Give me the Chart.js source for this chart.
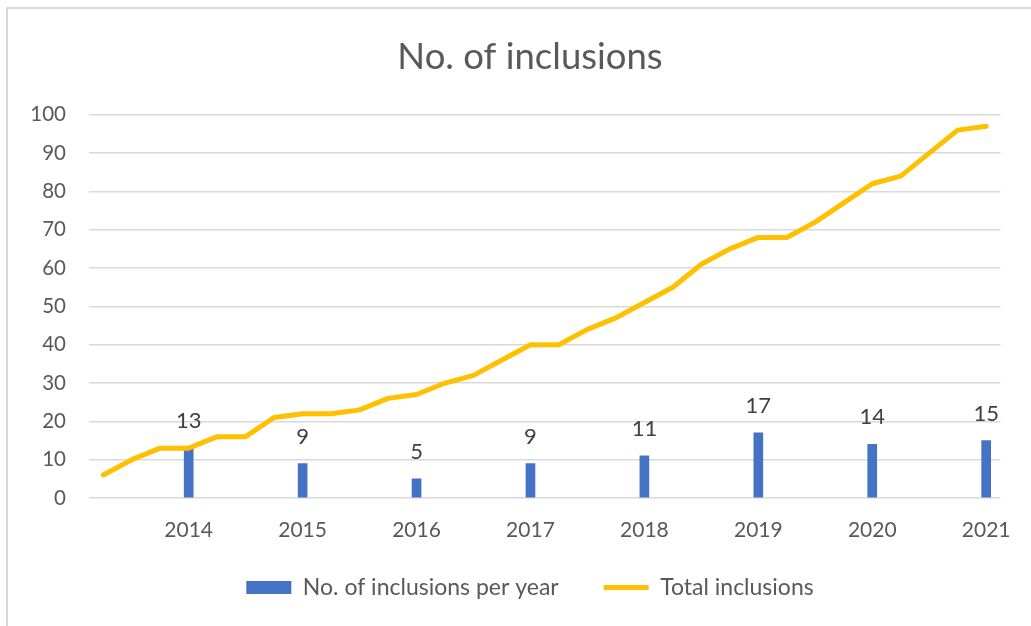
<!DOCTYPE html>
<html>
<head>
<meta charset="utf-8">
<script src="https://cdn.jsdelivr.net/npm/chart.js@4.4.1/dist/chart.umd.min.js"></script>
<style>
  html, body { margin: 0; padding: 0; background: #fff; overflow: hidden; }
  #wrap { position: relative; width: 1031px; height: 626px; }
  #frame { position: absolute; left: 6px; top: 7px; width: 1100px; height: 700px; border: 2px solid #d9d9d9; box-sizing: border-box; pointer-events: none; }
  canvas { position: absolute; left: 0; top: 0; }
</style>
</head>
<body>
<div id="wrap">
  <canvas id="c" width="1031" height="626"></canvas>
  <div id="frame"></div>
</div>
<script>
// Categories: quarterly points, labelled at each year end
const categories = ['', '', '', '2014', '', '', '', '2015', '', '', '', '2016', '', '', '', '2017',
                    '', '', '', '2018', '', '', '', '2019', '', '', '', '2020', '', '', '', '2021'];
// Inclusions per year (shown only at year categories)
const perYear = [null, null, null, 13, null, null, null, 9, null, null, null, 5, null, null, null, 9,
                 null, null, null, 11, null, null, null, 17, null, null, null, 14, null, null, null, 15];
// Cumulative total inclusions
const totalInclusions = [6, 10, 13, 13, 16, 16, 21, 22, 22, 23, 26, 27, 30, 32, 36, 40,
                         40, 44, 47, 51, 55, 61, 65, 68, 68, 72, 77, 82, 84, 90, 96, 97];
const yTicks = [0, 10, 20, 30, 40, 50, 60, 70, 80, 90, 100];

const FONT = 'Lato, "Open Sans", sans-serif';

const barLabels = {
  id: 'barLabels',
  afterDatasetsDraw(chart) {
    const meta = chart.getDatasetMeta(0);
    const ctx = chart.ctx;
    ctx.save();
    ctx.font = '22px ' + FONT;
    ctx.fillStyle = '#404040';
    ctx.textAlign = 'center';
    ctx.textBaseline = 'middle';
    meta.data.forEach((el, i) => {
      const v = perYear[i];
      if (v === null || v === undefined) return;
      ctx.fillText(String(v), el.x, el.y - 27);
    });
    ctx.restore();
  }
};

function noLabelClip(scale) { scale._computeLabelArea = () => undefined; }

new Chart(document.getElementById('c'), {
  type: 'bar',
  data: {
    labels: categories,
    datasets: [
      {
        type: 'bar',
        label: 'No. of inclusions per year',
        data: perYear,
        backgroundColor: '#4472C4',
        borderWidth: 0,
        barThickness: 9,
        order: 1,
        pointStyle: 'rect'
      },
      {
        type: 'line',
        label: 'Total inclusions',
        data: totalInclusions,
        borderColor: '#FFC000',
        backgroundColor: '#FFC000',
        borderWidth: 5,
        borderCapStyle: 'round',
        borderJoinStyle: 'round',
        pointRadius: 0,
        tension: 0,
        order: 0,
        pointStyle: 'line'
      }
    ]
  },
  options: {
    responsive: false,
    animation: false,
    layout: { padding: { left: 59, right: 30, top: 0, bottom: 17 } },
    plugins: {
      title: {
        display: true,
        text: 'No. of inclusions',
        color: '#595959',
        font: { family: FONT, size: 36.5, weight: 'normal', lineHeight: 1.2 },
        padding: { top: 35, bottom: 36 }
      },
      legend: {
        position: 'bottom',
        labels: {
          usePointStyle: true,
          pointStyleWidth: 45,
          boxHeight: 13,
          color: '#595959',
          font: { family: FONT, size: 23 },
          padding: 45,
          sort: (a, b) => a.datasetIndex - b.datasetIndex
        }
      },
      tooltip: { enabled: false }
    },
    scales: {
      x: {
        offset: true,
        afterFit(scale) { scale.height = 33; noLabelClip(scale); },
        grid: { display: false, drawTicks: false },
        border: { display: false },
        ticks: {
          autoSkip: false,
          maxRotation: 0,
          color: '#595959',
          font: { family: FONT, size: 21 },
          padding: 20
        }
      },
      y: {
        min: 0,
        max: 100,
        afterFit(scale) { scale.width = 30; noLabelClip(scale); },
        afterBuildTicks(scale) { scale.ticks = yTicks.map(v => ({ value: v })); },
        grid: { color: '#d9d9d9', lineWidth: 1.5, drawTicks: false },
        border: { display: false },
        ticks: {
          color: '#595959',
          font: { family: FONT, size: 20.5 },
          padding: 23
        }
      }
    }
  },
  plugins: [barLabels]
});
</script>
</body>
</html>
